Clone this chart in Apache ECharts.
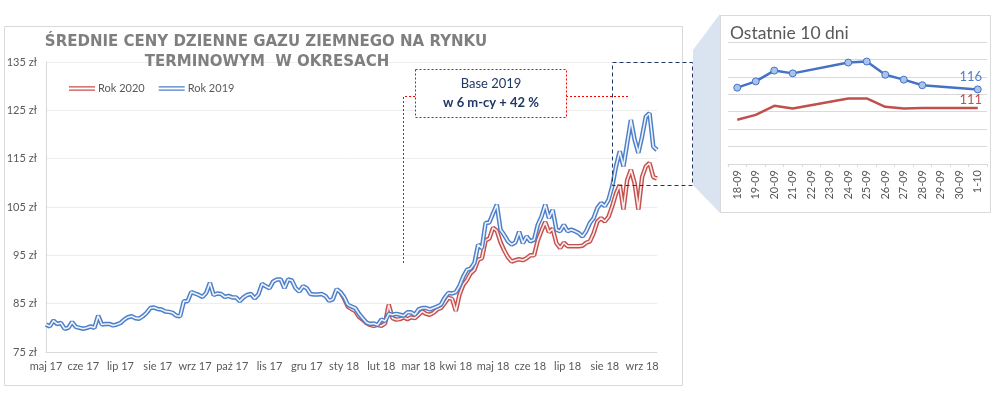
<!DOCTYPE html>
<html>
<head>
<meta charset="utf-8">
<script src="https://cdn.jsdelivr.net/npm/echarts@6/dist/echarts.min.js"></script>
<style>html,body{margin:0;padding:0;background:#fff;}#c{width:993px;height:395px;}</style>
</head>
<body>
<div id="c"></div>
<script>
// Main chart: tick labels (one every 10 points)
const monthLabels = ['maj 17','cze 17','lip 17','sie 17','wrz 17','paź 17','lis 17','gru 17','sty 18','lut 18','mar 18','kwi 18','maj 18','cze 18','lip 18','sie 18','wrz 18'];
const yTicks = [75, 85, 95, 105, 115, 125, 135];

// Rok 2019 (blue)
const rok2019 = [80.7,80.3,81.5,80.8,81.0,79.8,80.0,81.2,80.2,80.0,
79.8,80.0,80.3,80.0,82.5,80.7,80.8,80.8,80.5,80.7,
81.0,81.7,82.2,82.4,82.0,81.9,82.4,83.1,84.1,84.2,
83.9,83.8,83.4,83.3,83.1,82.5,82.4,85.5,85.5,87.4,
87.1,86.8,86.4,87.2,89.3,86.8,87.1,87.0,86.4,86.6,
86.3,86.3,85.5,86.3,86.8,87.0,86.1,86.9,89.1,88.6,
88.2,89.6,90.0,90.0,88.2,90.0,89.8,88.2,87.5,88.6,
88.2,87.0,86.9,86.9,87.0,86.6,85.6,85.9,88.0,87.4,
86.4,84.8,84.4,84.1,82.9,82.0,81.1,80.8,80.9,80.6,
81.7,81.4,82.9,82.7,82.9,82.7,82.5,83.2,83.2,82.7,
83.8,84.1,84.1,83.8,84.1,84.4,84.8,86.2,87.2,87.1,
87.4,88.7,90.6,92.0,92.3,93.4,97.2,96.5,101.7,101.8,
103.7,105.5,100.3,99.2,97.9,97.2,97.7,99.9,97.5,98.9,
97.9,98.2,101.3,103.0,105.5,102.7,104.4,100.3,100.0,101.3,
100.0,100.3,100.0,99.6,98.9,100.0,101.7,102.7,104.8,105.8,
105.2,106.5,109.3,113.4,116.5,113.4,118.2,123.0,118.9,116.2,
119.6,123.7,124.4,117.5,116.8];

// Rok 2020 (red), starts in January 2018
const rok2020 = [null,null,null,null,null,null,null,null,null,null,
null,null,null,null,null,null,null,null,null,null,
null,null,null,null,null,null,null,null,null,null,
null,null,null,null,null,null,null,null,null,null,
null,null,null,null,null,null,null,null,null,null,
null,null,null,null,null,null,null,null,null,null,
null,null,null,null,null,null,null,null,null,null,
null,null,null,null,null,null,null,null,null,87.4,
86.1,84.4,83.9,83.5,82.3,81.7,81.0,80.6,80.4,80.6,
80.4,80.9,84.8,82.0,81.7,81.8,82.2,81.8,82.2,82.0,
82.7,83.4,82.9,82.7,83.1,83.8,84.1,85.1,86.2,86.0,
83.5,86.9,88.9,89.9,91.3,92.0,94.1,94.4,98.1,98.5,
100.7,100.1,97.7,96.0,94.6,93.7,94.0,94.2,94.0,94.4,
95.0,95.0,98.1,100.1,101.9,99.8,100.5,97.5,96.5,97.6,
96.9,96.9,96.9,96.9,97.0,97.6,97.9,99.6,102.0,102.7,
102.0,103.0,105.2,107.8,109.6,104.5,110.6,112.7,109.9,104.5,
111.2,113.4,114.1,111.2,110.9];

// Inset: last 10 days
const insetDays = ['18-09','19-09','20-09','21-09','22-09','23-09','24-09','25-09','26-09','27-09','28-09','29-09','30-09','1-10'];
const inset2019 = [116.9,118.7,121.8,121.0,null,null,124.1,124.4,120.6,119.2,117.6,null,null,116.4];
const inset2020 = [107.7,109.1,111.7,110.9,null,null,113.8,113.8,111.4,110.9,111.1,null,null,111.1];

const BLUE = '#4d7fc8', RED = '#c6504e';
const BLUE_IN = '#eef3fb', RED_IN = '#fbecec';
const F = 'Lato, "Liberation Sans", sans-serif';
const idx = rok2019.map((_, i) => String(i));

const endLabel = (arr, color) => arr.map((v, i) => i === arr.length - 1 ?
  {value: v, label: {show: true, position: 'top', offset: [-7, 3], formatter: p => Math.round(p.value), color: color, fontSize: 13, fontFamily: F}} : v);
const lastB = endLabel(inset2019, '#4f81c7');
const lastR = endLabel(inset2020, '#c0504d');

const chart = echarts.init(document.getElementById('c'), null, {renderer: 'canvas'});
const dbl = 'path://M0,0H26V1.3H0Z M0,3.2H26V4.5H0Z';
chart.setOption({
  animation: false,
  backgroundColor: '#fff',
  legend: {
    data: [{name: 'Rok 2020', icon: dbl}, {name: 'Rok 2019', icon: dbl}],
    left: 69, top: 83, padding: 0, itemWidth: 26, itemHeight: 5, itemGap: 14,
    textStyle: {fontFamily: F, fontSize: 11, color: '#595959', padding: [0, 0, 0, -2]}
  },
  grid: [
    {left: 46, right: 336, top: 62, bottom: 43},
    {left: 728, right: 6, top: 42, bottom: 231}
  ],
  xAxis: [
    {type: 'category', gridIndex: 0, data: idx, boundaryGap: false,
     axisLine: {lineStyle: {color: '#d9d9d9'}}, axisTick: {show: false},
     axisLabel: {interval: 9, margin: 9, fontFamily: F, fontSize: 11, color: '#595959',
       formatter: (v, i) => monthLabels[Math.round(Number(v) / 10)] || ''}},
    {type: 'category', gridIndex: 1, data: insetDays, boundaryGap: true,
     axisLine: {lineStyle: {color: '#d9d9d9'}}, axisTick: {show: true, length: 3, lineStyle: {color: '#d9d9d9'}},
     axisLabel: {rotate: 90, margin: 6, fontFamily: F, fontSize: 11, color: '#595959', interval: 0}}
  ],
  yAxis: [
    {type: 'value', gridIndex: 0, min: yTicks[0], max: yTicks[yTicks.length - 1], interval: 10,
     axisLine: {show: true, lineStyle: {color: '#d9d9d9'}}, axisTick: {show: false},
     splitLine: {lineStyle: {color: '#ededed'}},
     axisLabel: {margin: 9, fontFamily: F, fontSize: 11, color: '#595959', formatter: '{value} zł'}},
    {type: 'value', gridIndex: 1, min: 95, max: 130, interval: 5,
     axisLine: {show: false}, axisTick: {show: false}, axisLabel: {show: false},
     splitLine: {lineStyle: {color: '#d9d9d9'}}}
  ],
  series: [
    {name: 'Rok 2020', type: 'line', data: rok2020, xAxisIndex: 0, yAxisIndex: 0, showSymbol: false, color: RED,
     lineStyle: {width: 4.5, color: RED}, z: 2},
    {name: 'Rok 2020 wn', type: 'line', data: rok2020, xAxisIndex: 0, yAxisIndex: 0, showSymbol: false, silent: true,
     lineStyle: {width: 1.6, color: RED_IN}, z: 3},
    {name: 'Rok 2019', type: 'line', data: rok2019, xAxisIndex: 0, yAxisIndex: 0, showSymbol: false, color: BLUE,
     lineStyle: {width: 4.5, color: BLUE}, z: 4},
    {name: 'Rok 2019 wn', type: 'line', data: rok2019, xAxisIndex: 0, yAxisIndex: 0, showSymbol: false, silent: true,
     lineStyle: {width: 1.6, color: BLUE_IN}, z: 5},
    {name: 'i2020', type: 'line', data: lastR, xAxisIndex: 1, yAxisIndex: 1, connectNulls: true, showSymbol: true,
     symbol: 'circle', symbolSize: 0.01,
     lineStyle: {width: 2.5, color: '#c0504d'}, itemStyle: {color: '#c0504d'}, z: 3},
    {name: 'i2019', type: 'line', data: lastB, xAxisIndex: 1, yAxisIndex: 1, connectNulls: true, symbol: 'circle', symbolSize: 7,
     lineStyle: {width: 2.5, color: '#4472c4'}, itemStyle: {color: '#a9c4ec', borderColor: '#4472c4', borderWidth: 1}, z: 4}
  ],
  graphic: [
    {type: 'rect', z: -1, shape: {x: 4.5, y: 26.5, width: 678, height: 359}, style: {fill: 'none', stroke: '#d9d9d9', lineWidth: 1}},
    {type: 'polygon', z: -1, shape: {points: [[693, 50], [720, 14], [720, 213], [693, 185]]}, style: {fill: '#dae3f0'}},
    {type: 'rect', z: -1, shape: {x: 720.5, y: 15.5, width: 270, height: 197}, style: {fill: '#fff', stroke: '#d9d9d9', lineWidth: 1}},
    {type: 'text', z: 50, style: {x: 266, y: 42, text: 'ŚREDNIE CENY DZIENNE GAZU ZIEMNEGO NA RYNKU', textAlign: 'center', textVerticalAlign: 'middle', font: 'bold 15px "DejaVu Sans"', fill: '#7f7f7f'}},
    {type: 'text', z: 50, style: {x: 267, y: 62, text: 'TERMINOWYM  W OKRESACH', textAlign: 'center', textVerticalAlign: 'middle', font: 'bold 15px "DejaVu Sans"', fill: '#7f7f7f'}},
    {type: 'text', z: 50, style: {x: 730, y: 33, text: 'Ostatnie 10 dni', textAlign: 'left', textVerticalAlign: 'middle', font: '17.5px Lato', fill: '#595959'}},
    {type: 'rect', z: 60, shape: {x: 612.5, y: 62.5, width: 80, height: 123}, style: {fill: 'none', stroke: '#1f3864', lineWidth: 1, lineDash: [4, 3]}},
    {type: 'polyline', z: 60, shape: {points: [[415, 96.5], [403.5, 96.5], [403.5, 263]]}, style: {stroke: '#ff0000', lineWidth: 1, lineDash: [2, 2], fill: 'none'}},
    {type: 'polyline', z: 60, shape: {points: [[566, 96.5], [630, 96.5]]}, style: {stroke: '#ff0000', lineWidth: 1, lineDash: [2, 2], fill: 'none'}},
    {type: 'rect', z: 60, shape: {x: 415.5, y: 69.5, width: 151, height: 48}, style: {fill: '#fff', stroke: '#ff0000', lineWidth: 1, lineDash: [2, 2]}},
    {type: 'text', z: 61, style: {x: 491, y: 84, text: 'Base 2019', textAlign: 'center', textVerticalAlign: 'middle', font: '13px Lato', fill: '#1f3864'}},
    {type: 'text', z: 61, style: {x: 491, y: 103, text: 'w 6 m-cy + 42 %', textAlign: 'center', textVerticalAlign: 'middle', font: 'bold 13px Lato', fill: '#1f3864'}}
  ]
});
</script>
</body>
</html>
